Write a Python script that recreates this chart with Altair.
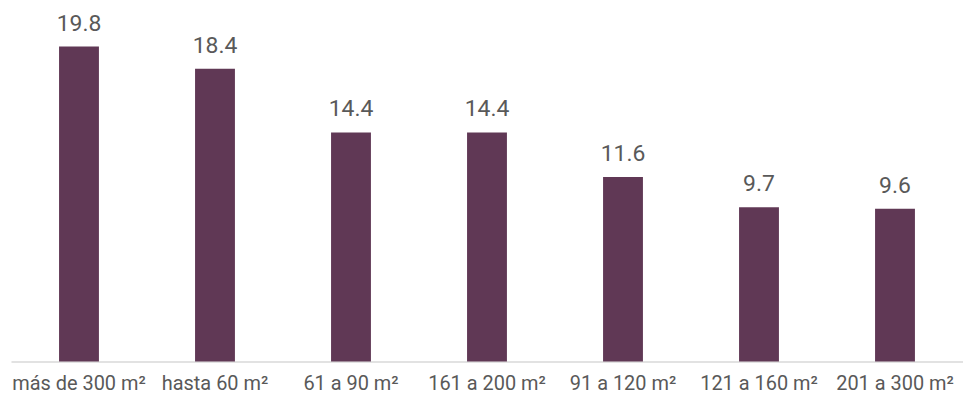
import altair as alt
import pandas as pd

categories = ["más de 300 m²", "hasta 60 m²", "61 a 90 m²", "161 a 200 m²",
              "91 a 120 m²", "121 a 160 m²", "201 a 300 m²"]
values = [19.8, 18.4, 14.4, 14.4, 11.6, 9.7, 9.6]

df = pd.DataFrame({"cat": categories, "val": values})

x = alt.X("cat:N", sort=categories, title=None,
          scale=alt.Scale(paddingInner=0, paddingOuter=0),
          axis=alt.Axis(labelAngle=0, labelFont="Roboto", labelFontSize=20,
                        labelColor="#595959", ticks=False, domainColor="#d9d9d9",
                        domainWidth=1.5, labelPadding=12, labelLimit=300))
y = alt.Y("val:Q", title=None, scale=alt.Scale(domain=[0, 22.18], nice=False),
          axis=None)

bars = alt.Chart(df).mark_bar(size=40, color="#603855").encode(x=x, y=y)
text = alt.Chart(df).mark_text(baseline="bottom", dy=-11, font="Roboto",
                               fontSize=23, color="#595959").encode(
    x=alt.X("cat:N", sort=categories), y="val:Q",
    text=alt.Text("val:Q", format=".1f"))

chart = (bars + text).properties(
    width=955, height=354,
    padding={"left": 3, "top": 0, "right": 0, "bottom": 38},
    autosize=alt.AutoSizeParams(type="none"),
).configure_view(stroke=None)

chart.save("out.html", embed_options={"renderer": "svg", "actions": False})
